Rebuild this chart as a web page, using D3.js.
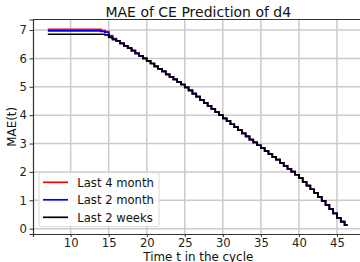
<!DOCTYPE html>
<html>
<head>
<meta charset="utf-8">
<script src="https://cdn.jsdelivr.net/npm/d3@7"></script>
<style>
  body { margin: 0; background: #fff; }
  svg { display: block; font-family: "DejaVu Sans", sans-serif; }
</style>
</head>
<body>
<div id="chart"></div>
<script>
// head of each series, t = 7 .. 15.5 every 0.5
const headRed = [7.02, 7.02, 7.02, 7.02, 7.02, 7.02, 7.02, 7.02, 7.02, 7.02,
  7.02, 7.02, 7.02, 7.02, 6.98, 6.94, 6.80, 6.70];
const headBlue = [6.97, 6.97, 6.97, 6.97, 6.97, 6.97, 6.97, 6.97, 6.97, 6.97,
  6.97, 6.97, 6.97, 6.97, 6.95, 6.92, 6.78, 6.68];
const headBlack = [6.85, 6.85, 6.85, 6.85, 6.85, 6.85, 6.85, 6.85, 6.85, 6.85,
  6.85, 6.85, 6.85, 6.85, 6.85, 6.83, 6.74, 6.66];
// shared tail, t = 16 .. 46 every 0.5
const tail = [
  6.62, 6.53, 6.44, 6.36, 6.27, 6.18, 6.09, 6.00, 5.91, 5.82,
  5.72, 5.63, 5.54, 5.44, 5.35, 5.26, 5.17, 5.08, 4.98, 4.87,
  4.76, 4.65, 4.54, 4.43, 4.33, 4.22, 4.11, 4.00, 3.89, 3.79,
  3.68, 3.58, 3.47, 3.36, 3.25, 3.14, 3.04, 2.94, 2.84, 2.73,
  2.63, 2.53, 2.43, 2.32, 2.21, 2.11, 2.01, 1.90, 1.78, 1.65,
  1.52, 1.39, 1.26, 1.12, 0.98, 0.84, 0.69, 0.54, 0.38, 0.25,
  0.13];
const tStart = 7, tStep = 0.5, tEnd = 46.4;

const seriesNames = ["Last 4 month", "Last 2 month", "Last 2 weeks"];
const seriesColors = ["red", "blue", "black"];
const xTicks = [10, 15, 20, 25, 30, 35, 40, 45];
const yTicks = [0, 1, 2, 3, 4, 5, 6, 7];

const W = 360, H = 262;
const mLeft = 33, mTop = 19.5, mBottom = 234;

const x = d3.scaleLinear().domain([5.05, 48.5]).range([mLeft, 363.6]);
const y = d3.scaleLinear().domain([-0.187, 7.37]).range([mBottom, mTop]);

function buildSeries(head) {
  const vals = head.concat(tail);
  const pts = vals.map((v, i) => ({ t: tStart + i * tStep, v: v }));
  pts.push({ t: tEnd, v: vals[vals.length - 1] });
  return pts;
}
const allSeries = [headRed, headBlue, headBlack].map(buildSeries);

const svg = d3.select("#chart").append("svg")
  .attr("width", W).attr("height", H);

svg.append("defs").append("clipPath").attr("id", "clip")
  .append("rect").attr("x", mLeft).attr("y", mTop)
  .attr("width", W - mLeft).attr("height", mBottom - mTop);

// grid
const grid = svg.append("g");
xTicks.forEach(t => {
  grid.append("line")
    .attr("x1", x(t)).attr("x2", x(t)).attr("y1", mTop).attr("y2", mBottom)
    .attr("stroke", "#cbcbcb").attr("stroke-width", 1.5);
});
yTicks.forEach(t => {
  grid.append("line")
    .attr("x1", mLeft).attr("x2", W).attr("y1", y(t)).attr("y2", y(t))
    .attr("stroke", "#cbcbcb").attr("stroke-width", 1.5);
});

// lines
const line = d3.line().x(d => x(d.t)).y(d => y(d.v)).curve(d3.curveStepAfter);
const lines = svg.append("g").attr("clip-path", "url(#clip)");
allSeries.forEach((s, i) => {
  lines.append("path")
    .attr("d", line(s))
    .attr("fill", "none")
    .attr("stroke", seriesColors[i])
    .attr("stroke-width", 1.7);
});

// axes
const xAxis = svg.append("g")
  .attr("transform", `translate(0,${mBottom})`)
  .call(d3.axisBottom(x).tickValues(xTicks).tickSize(3).tickPadding(2));
const yAxis = svg.append("g")
  .attr("transform", `translate(${mLeft},0)`)
  .call(d3.axisLeft(y).tickValues(yTicks).tickSize(3.5).tickPadding(2.5));
[xAxis, yAxis].forEach(a => {
  a.selectAll("text").attr("font-size", 11.6).attr("fill", "#222")
    .attr("font-family", "DejaVu Sans");
  a.selectAll(".tick line").attr("stroke", "#333");
  a.select(".domain").attr("stroke", "#333").attr("stroke-width", 1.2);
});

// top spine
svg.append("line")
  .attr("x1", mLeft).attr("x2", W).attr("y1", mTop).attr("y2", mTop)
  .attr("stroke", "#333").attr("stroke-width", 1.2);

// title and labels
svg.append("text")
  .attr("x", 198.3).attr("y", 16.5)
  .attr("text-anchor", "middle")
  .attr("font-size", 14).attr("fill", "#111")
  .text("MAE of CE Prediction of d4");

svg.append("text")
  .attr("x", 198.3).attr("y", 260.5)
  .attr("text-anchor", "middle")
  .attr("font-size", 11.9).attr("fill", "#111")
  .text("Time t in the cycle");

svg.append("text")
  .attr("transform", `translate(15.5,${(mTop + mBottom) / 2}) rotate(-90)`)
  .attr("text-anchor", "middle")
  .attr("font-size", 11.9).attr("fill", "#111")
  .text("MAE(t)");

// legend
const lg = svg.append("g");
lg.append("rect")
  .attr("x", 39).attr("y", 172.7).attr("width", 120).attr("height", 54)
  .attr("rx", 2.5)
  .attr("fill", "white").attr("fill-opacity", 0.85)
  .attr("stroke", "#d8d8d8").attr("stroke-width", 1);
seriesNames.forEach((name, i) => {
  const ly = 182.3 + i * 17.5;
  lg.append("line")
    .attr("x1", 43).attr("x2", 68).attr("y1", ly).attr("y2", ly)
    .attr("stroke", seriesColors[i]).attr("stroke-width", 1.7);
  lg.append("text")
    .attr("x", 77.3).attr("y", ly + 4.2)
    .attr("font-size", 11.6).attr("fill", "#111")
    .text(name);
});
</script>
</body>
</html>
